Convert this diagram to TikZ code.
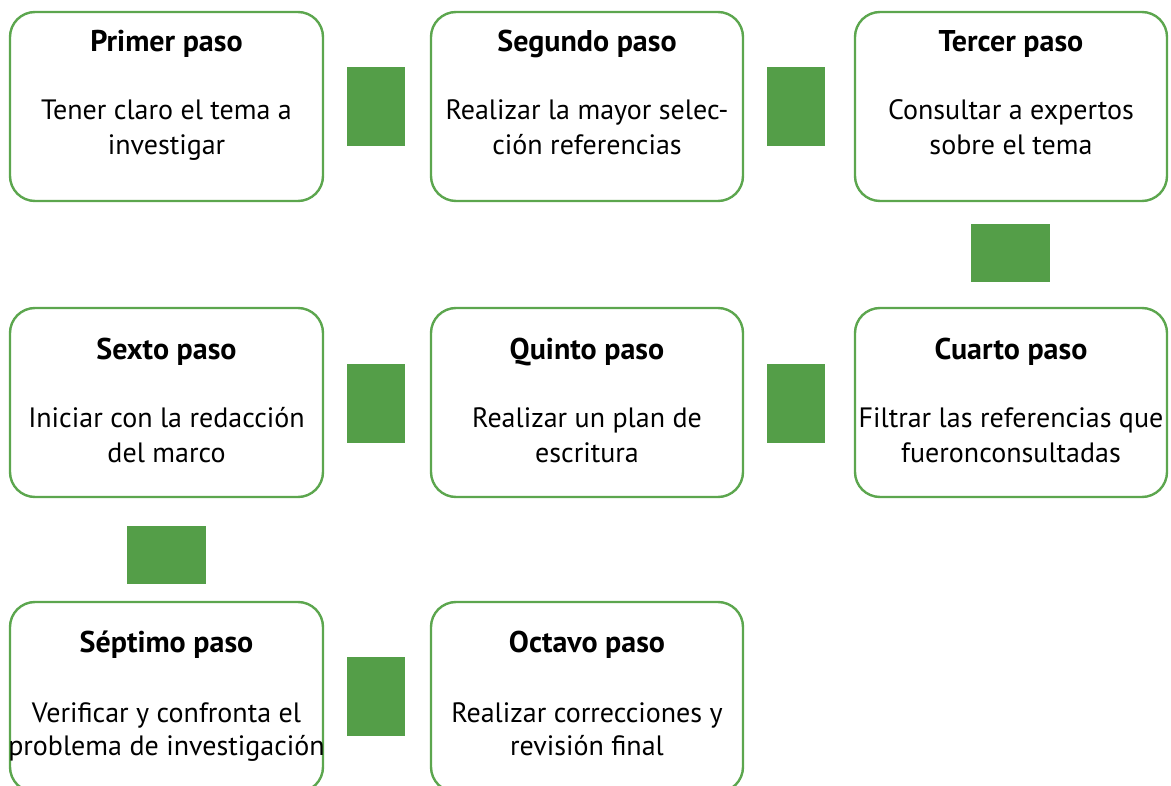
\documentclass[tikz,border=0pt]{standalone}
\usepackage{fontspec}
\setmainfont{PT Sans}
\definecolor{stepgreen}{RGB}{84,158,72}
\definecolor{edgegreen}{RGB}{92,166,78}
\tikzset{
  stepbox/.style={draw=edgegreen, line width=2.4pt, rounded corners=25pt, fill=white},
  connbox/.style={fill=stepgreen, draw=none},
  ttl/.style={anchor=base, font=\fontsize{30}{34}\selectfont\bfseries, inner sep=0pt},
  bodytxt/.style={anchor=base, font=\fontsize{28}{34}\selectfont, inner sep=0pt},
}
\begin{document}
\begin{tikzpicture}[x=1pt,y=-1pt]
\useasboundingbox (0,0) rectangle (1171,786);
% boxes
\draw[stepbox] (10,12) rectangle (323,201);
\draw[stepbox] (431,12) rectangle (743,201);
\draw[stepbox] (855,12) rectangle (1167,201);
\draw[stepbox] (10,308) rectangle (323,497);
\draw[stepbox] (431,308) rectangle (743,497);
\draw[stepbox] (855,308) rectangle (1167,497);
\draw[stepbox] (10,602) rectangle (323,792);
\draw[stepbox] (431,602) rectangle (743,792);
% connectors (green blocks)
\fill[connbox] (347,67) rectangle (405,146);
\fill[connbox] (767,67) rectangle (825,146);
\fill[connbox] (971,224) rectangle (1050,282);
\fill[connbox] (767,364) rectangle (825,443);
\fill[connbox] (347,364) rectangle (405,443);
\fill[connbox] (127,526) rectangle (206,584);
\fill[connbox] (347,657) rectangle (405,736);
% texts row 1
\node[ttl] (t1) at (166.5,52) {Primer paso};
\node[bodytxt] (b1a) at (166.5,120) {Tener claro el tema a};
\node[bodytxt] (b1b) at (166.5,155) {investigar};
\node[ttl] (t2) at (587,52) {Segundo paso};
\node[bodytxt] (b2a) at (587,120) {Realizar la mayor selec-};
\node[bodytxt] (b2b) at (587,155) {ción referencias};
\node[ttl] (t3) at (1011,52) {Tercer paso};
\node[bodytxt] (b3a) at (1011,120) {Consultar a expertos};
\node[bodytxt] (b3b) at (1011,155) {sobre el tema};
% row 2
\node[ttl] (t6) at (166.5,360) {Sexto paso};
\node[bodytxt] (b6a) at (166.5,428) {Iniciar con la redacción};
\node[bodytxt] (b6b) at (166.5,463) {del marco};
\node[ttl] (t5) at (587,360) {Quinto paso};
\node[bodytxt] (b5a) at (587,428) {Realizar un plan de};
\node[bodytxt] (b5b) at (587,463) {escritura};
\node[ttl] (t4) at (1011,360) {Cuarto paso};
\node[bodytxt] (b4a) at (1011,428) {Filtrar las referencias que};
\node[bodytxt] (b4b) at (1011,463) {fueronconsultadas};
% row 3
\node[ttl] (t7) at (166.5,652) {Séptimo paso};
\node[bodytxt] (b7a) at (166.5,722) {Verificar y confronta el};
\node[bodytxt] (b7b) at (166.5,755) {problema de investigación};
\node[ttl] (t8) at (587,652) {Octavo paso};
\node[bodytxt] (b8a) at (587,722) {Realizar correcciones y};
\node[bodytxt] (b8b) at (587,755) {revisión final};
\end{tikzpicture}
\end{document}
